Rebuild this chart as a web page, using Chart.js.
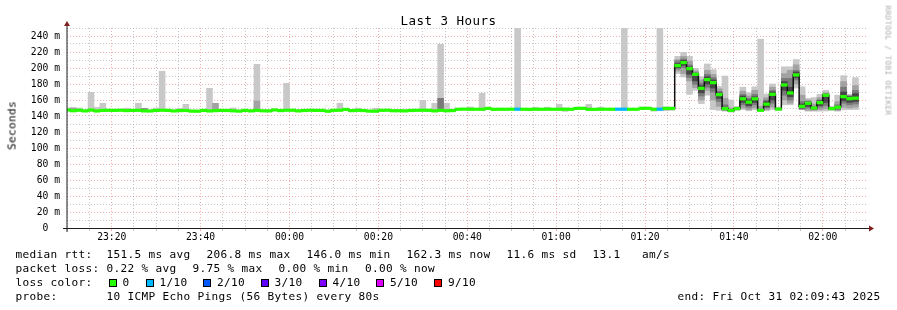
<!DOCTYPE html>
<html>
<head>
<meta charset="utf-8">
<script src="https://cdn.jsdelivr.net/npm/chart.js@4"></script>
<style>
html,body{margin:0;padding:0;background:#fff;}
#wrap{position:relative;width:897px;height:310px;overflow:hidden;background:#fff;font-family:'DejaVu Sans Mono',monospace;color:#000;}
#c{position:absolute;left:0;top:0;}
.t{position:absolute;white-space:pre;font-size:11.1px;letter-spacing:0.32px;line-height:13px;}
.box{position:absolute;width:6px;height:6px;border:1px solid #000;top:279px;}
</style>
</head>
<body>
<div id="wrap">
<canvas id="c" width="897" height="310"></canvas>
<div class="t" style="left:0;width:897px;text-align:center;top:12.5px;font-size:12.5px;letter-spacing:0.47px;line-height:15px;">Last 3 Hours</div>
<div class="t" style="left:-38.5px;top:119px;width:100px;text-align:center;color:#000;transform:rotate(-90deg);">Seconds</div>
<div class="t" style="left:827.6px;top:55.5px;width:120px;text-align:center;font-size:7.64px;letter-spacing:0.4px;line-height:9px;color:#aaa;transform:rotate(90deg);">RRDTOOL / TOBI OETIKER</div>
<div id="legend"></div>
</div>
<script>
// ---- data ----
const startMin = 9.94;            // x origin, minutes after 23:00
const stepMin = 80 / 60;          // 80 s probe step
const median = [
147.6,146.6,147.2,146.4,147.4,146.3,147.0,147.1,147.0,147.2,146.8,147.0,147.1,146.4,146.3,147.0,147.2,147.0,146.3,146.8,146.9,146.1,146.0,147.0,146.3,146.7,147.0,146.9,146.5,146.1,147.0,146.4,147.1,146.5,
146.4,147.6,146.8,147.2,147.2,146.4,146.9,147.2,147.0,147.0,146.0,147.1,147.2,148.2,146.7,147.1,146.8,146.1,146.0,147.1,147.2,146.6,146.6,146.4,146.9,147.1,147.2,147.1,146.4,147.1,146.6,146.8,148.4,148.6,
148.4,148.4,148.4,149.5,148.3,148.4,148.4,148.5,148.5,148.4,148.3,148.4,148.4,148.5,148.4,148.4,148.4,148.4,149.5,149.6,148.4,148.3,148.4,148.5,148.4,148.5,148.5,148.4,148.4,149.5,149.6,148.4,148.5,
149.5,149.5,203.0,206.8,199.2,192.1,174.6,185.5,181.7,166.7,149.2,146.9,149.2,161.5,157.3,161.5,147.1,154.8,167.1,148.6,178.8,168.8,191.3,152.1,155.9,150.0,156.7,165.9,149.2,150.9,164.2,161.7,162.3
];
const lossStep = [76, 93, 94, 100];
const lossCount = [1, 1, 1, 1];
const lossKeys = [0, 1, 2, 3, 4, 5, 9];
const lossLabels = ['0', '1/10', '2/10', '3/10', '4/10', '5/10', '9/10'];
const lossColors = ['#26ff00', '#00b8ff', '#0059ff', '#5e00ff', '#7e00ff', '#dd00ff', '#ff0000'];
const _ = null;
const smokeStep = [0,1,2,4,5,6,10,12,13,15,16,19,20,24,25,28,32,37,46,49,52,60,62,63,64,
  68,70,76,79,81,83,84,88,90,94,97,99,100,101,102,
  103,104,105,106,107,108,109,110,111,112,113,114,115,116,117,118,119,120,121,122,123,124,125,126,127,128,129,130,131,132,133];
const outerLo = [146.5,146.0,146.4,146.2,145.8,146.3,146.0,146.5,145.6,146.2,146.5,146.0,146.2,145.7,146.0,145.8,146.4,146.5,146.4,146.0,145.6,146.4,145.8,146.4,145.6,
  147.6,147.5,147.5,147.5,147.6,147.4,145.8,147.4,147.5,147.6,148.0,146.0,147.0,146.5,147.0,
  193.0,188.8,167.1,172.1,155.5,166.0,148.0,147.0,146.0,145.0,147.0,148.0,146.5,148.0,145.5,146.5,148.0,147.0,154.0,154.0,175.0,147.7,146.0,146.0,146.0,146.3,147.0,146.0,147.7,148.0,148.0];
const outerHi = [150.1,150.5,150.0,169.6,151.0,155.9,149.8,155.9,149.4,150.0,195.9,149.6,154.6,174.6,155.9,150.0,204.6,180.9,155.9,149.8,149.6,159.6,155.9,229.6,155.9,
  151.3,168.4,249.5,150.8,151.0,154.6,150.2,154.6,151.0,249.5,151.2,150.0,249.5,151.5,151.0,
  214.6,219.6,214.6,199.6,189.0,205.0,198.0,177.0,190.0,160.0,152.0,176.0,169.0,176.5,236.0,167.5,180.0,151.0,201.5,201.5,210.6,176.5,162.0,163.0,167.0,172.0,152.0,166.0,190.5,167.0,188.0];
const midLo = [_,146.2,_,_,_,_,_,_,_,_,_,_,_,_,146.4,_,146.6,_,_,_,_,_,_,_,_,
  _,_,_,_,_,_,_,_,_,_,_,_,_,_,_,
  196.3,193.0,183.8,175.5,160.0,172.0,160.0,152.0,147.0,145.5,_,150.0,148.0,150.0,146.0,148.0,151.0,_,160.0,156.0,180.0,148.0,147.0,147.0,148.0,149.0,_,147.0,151.0,150.0,151.0];
const midHi = [_,150.0,_,_,_,_,_,_,_,_,_,_,_,_,155.9,_,158.8,_,_,_,_,_,_,_,_,
  _,_,_,_,_,_,_,_,_,_,_,_,_,_,_,
  210.5,214.6,208.8,196.3,185.0,197.0,192.0,174.0,162.0,150.0,_,171.0,165.0,172.0,152.0,163.0,176.0,_,193.0,197.0,204.0,166.0,160.0,155.0,163.0,169.0,_,158.0,183.0,166.0,178.0];
const darkLo = [_,_,_,_,_,_,_,_,145.8,_,_,_,_,_,_,_,_,_,_,_,_,_,_,147.0,_,
  _,_,_,_,_,_,_,_,_,_,_,_,_,_,_,
  198.8,200.5,188.0,179.6,165.0,176.0,170.0,158.0,147.5,_,_,154.0,151.0,154.0,_,150.0,156.0,_,166.0,160.0,185.0,149.0,150.0,148.0,151.0,153.0,_,148.0,156.0,154.0,155.0];
const darkHi = [_,_,_,_,_,_,_,_,149.2,_,_,_,_,_,_,_,_,_,_,_,_,_,_,162.1,_,
  _,_,_,_,_,_,_,_,_,_,_,_,_,_,_,
  208.8,211.3,203.8,194.2,181.0,192.0,188.0,171.0,154.0,_,_,167.0,162.0,167.0,_,160.0,172.0,_,187.0,187.0,197.0,158.0,158.0,152.0,160.0,168.0,_,154.0,176.0,165.0,172.0];
const coreLo = [_,_,_,_,_,_,_,_,_,_,_,_,_,_,_,_,_,_,_,_,_,_,_,_,_,
  _,_,_,_,_,_,_,_,_,_,_,_,_,_,_,
  200.5,203.5,192.1,183.8,169.0,180.0,175.0,162.0,148.0,_,_,157.0,153.0,157.0,_,151.5,160.0,_,172.0,164.0,188.0,150.0,152.0,_,153.0,157.0,_,_,159.0,157.0,158.0];
const coreHi = [_,_,_,_,_,_,_,_,_,_,_,_,_,_,_,_,_,_,_,_,_,_,_,_,_,
  _,_,_,_,_,_,_,_,_,_,_,_,_,_,_,
  205.5,209.5,201.3,193.0,178.0,189.0,185.0,169.0,151.0,_,_,165.0,160.0,164.0,_,158.0,170.0,_,183.0,176.0,195.0,155.0,157.5,_,159.0,167.0,_,_,170.0,164.0,168.0];
const xTickMinutes = [20, 40, 60, 80, 100, 120, 140, 160, 180];
const xTickLabels = ['23:20', '23:40', '00:00', '00:20', '00:40', '01:00', '01:20', '01:40', '02:00'];
const yTickValues = [0, 20, 40, 60, 80, 100, 120, 140, 160, 180, 200, 220, 240];
const yTickLabels = ['0', '20 m', '40 m', '60 m', '80 m', '100 m', '120 m', '140 m', '160 m', '180 m', '200 m', '220 m', '240 m'];
const legendRows = [
  [[15.5, 'median rtt:'], [106.5, '151.5 ms avg'], [206.5, '206.8 ms max'], [306.5, '146.0 ms min'], [406.5, '162.3 ms now'], [506.5, '11.6 ms sd'], [592.5, '13.1'], [642, 'am/s']],
  [[15.5, 'packet loss:'], [106.5, '0.22 % avg'], [192.5, '9.75 % max'], [278.5, '0.00 % min'], [365, '0.00 % now']],
  [[15.5, 'loss color:']],
  [[15.5, 'probe:'], [106.5, '10 ICMP Echo Pings (56 Bytes) every 80s'], [677.5, 'end: Fri Oct 31 02:09:43 2025']]
];

// ---- legend (HTML text) ----
const lg = document.getElementById('legend');
const rowTops = [248, 262, 276, 290];
legendRows.forEach((row, r) => row.forEach(([x, s]) => {
  const d = document.createElement('div'); d.className = 't';
  d.style.left = x + 'px'; d.style.top = rowTops[r] + 'px'; d.textContent = s; lg.appendChild(d);
}));
const boxLeft = [108.5, 145.5, 203, 260.5, 318.5, 376, 434];
lossKeys.forEach((k, i) => {
  const b = document.createElement('div'); b.className = 'box';
  b.style.left = boxLeft[i] + 'px'; b.style.background = lossColors[i]; lg.appendChild(b);
  const d = document.createElement('div'); d.className = 't';
  d.style.left = (boxLeft[i] + 14) + 'px'; d.style.top = rowTops[2] + 'px'; d.textContent = lossLabels[i]; lg.appendChild(d);
});

// ---- chart ----
const xAt = j => startMin + (j + 0.05) * stepMin;
function band(lo, hi) {
  const out = [];
  smokeStep.forEach((j, k) => { if (lo[k] != null) out.push({ x: xAt(j), y: [lo[k], hi[k]] }); });
  return out;
}
function lossColorFor(j) {
  const i = lossStep.indexOf(j);
  const n = i < 0 ? 0 : lossCount[i];
  let c = lossColors[0];
  lossKeys.forEach((k, idx) => { if (n >= k) c = lossColors[idx]; });
  return c;
}
const HALF = 1.6; // half thickness of median marker (ms)
const minorGrid = 'rgba(143,143,143,0.5)';
const majorGrid = 'rgba(222,79,79,0.45)';
const tickFont = { family: "'DejaVu Sans Mono', monospace", size: 9.7 };

const axesPlugin = {
  id: 'rrdAxes',
  afterDraw(chart) {
    const { ctx, chartArea: a } = chart;
    ctx.save();
    ctx.strokeStyle = 'rgb(31,31,31)';
    ctx.lineWidth = 1;
    ctx.beginPath(); ctx.moveTo(a.left - 4, a.bottom + 0.5); ctx.lineTo(a.right + 2, a.bottom + 0.5); ctx.stroke();
    ctx.beginPath(); ctx.moveTo(a.left, a.bottom + 4); ctx.lineTo(a.left, a.top - 3); ctx.stroke();
    ctx.fillStyle = 'rgb(128,31,31)';
    ctx.beginPath(); ctx.moveTo(a.right + 2, a.bottom - 2.5); ctx.lineTo(a.right + 7, a.bottom + 0.5); ctx.lineTo(a.right + 2, a.bottom + 3.5); ctx.closePath(); ctx.fill();
    ctx.beginPath(); ctx.moveTo(a.left - 3, a.top - 2); ctx.lineTo(a.left, a.top - 7); ctx.lineTo(a.left + 3, a.top - 2); ctx.closePath(); ctx.fill();
    ctx.restore();
  }
};

new Chart(document.getElementById('c'), {
  type: 'bar',
  data: {
    datasets: [
      { type: 'bar', data: band(outerLo, outerHi), backgroundColor: '#c8c8c8', order: 5 },
      { type: 'bar', data: band(midLo, midHi), backgroundColor: '#a2a2a2', order: 4 },
      { type: 'bar', data: band(darkLo, darkHi), backgroundColor: '#7a7a7a', order: 3 },
      { type: 'bar', data: band(coreLo, coreHi), backgroundColor: '#474747', order: 2 },
      { type: 'line', data: median.map((m, j) => ({ x: xAt(j), y: m })), stepped: 'middle',
        borderColor: '#111', borderWidth: 1.5, pointRadius: 0, fill: false, order: 1 },
      { type: 'bar', data: median.map((m, j) => ({ x: xAt(j), y: [m - HALF, m + HALF] })),
        backgroundColor: median.map((m, j) => lossColorFor(j)), order: 0 }
    ]
  },
  options: {
    responsive: false, animation: false, devicePixelRatio: 1,
    layout: { padding: { left: 0, right: 30, top: 28, bottom: 60 } },
    plugins: { legend: { display: false }, tooltip: { enabled: false }, title: { display: false } },
    datasets: { bar: { grouped: false, barPercentage: 1, categoryPercentage: 1, borderWidth: 0 } },
    events: [],
    scales: {
      x: {
        type: 'linear', min: startMin, max: startMin + 180, position: 'bottom', offset: false,
        afterBuildTicks: ax => { const t = []; for (let v = 10; v <= 185; v += 5) t.push({ value: v }); ax.ticks = t; },
        afterFit: s => { s.height = 22; s.paddingLeft = 0; s.paddingRight = 0; },
        ticks: {
          autoSkip: false, maxRotation: 0, minRotation: 0, padding: 1, color: '#000', font: tickFont,
          callback: v => { const i = xTickMinutes.indexOf(v); return i < 0 ? '' : xTickLabels[i]; }
        },
        grid: {
          offset: false, lineWidth: 1, drawTicks: true, tickLength: 3,
          color: c => (xTickMinutes.includes(c.tick && c.tick.value) ? majorGrid : minorGrid),
          tickColor: c => (xTickMinutes.includes(c.tick && c.tick.value) ? majorGrid : minorGrid)
        },
        border: { display: false, dash: [1, 2] }
      },
      y: {
        type: 'linear', min: 0, max: 250, position: 'left',
        afterBuildTicks: ax => { const t = []; for (let v = 0; v <= 250; v += 10) t.push({ value: v }); ax.ticks = t; },
        afterFit: s => { s.width = 67; s.paddingTop = 0; s.paddingBottom = 0; },
        ticks: {
          autoSkip: false, padding: 7, color: '#000', font: tickFont,
          callback: v => { const i = yTickValues.indexOf(v); if (i < 0) return ''; return v === 0 ? yTickLabels[i] + '  ' : yTickLabels[i]; }
        },
        grid: {
          lineWidth: 1, drawTicks: false,
          color: c => ((c.tick && c.tick.value % 20 === 0) ? majorGrid : minorGrid)
        },
        border: { display: false, dash: [1, 2] }
      }
    }
  },
  plugins: [axesPlugin]
});
</script>
</body>
</html>
